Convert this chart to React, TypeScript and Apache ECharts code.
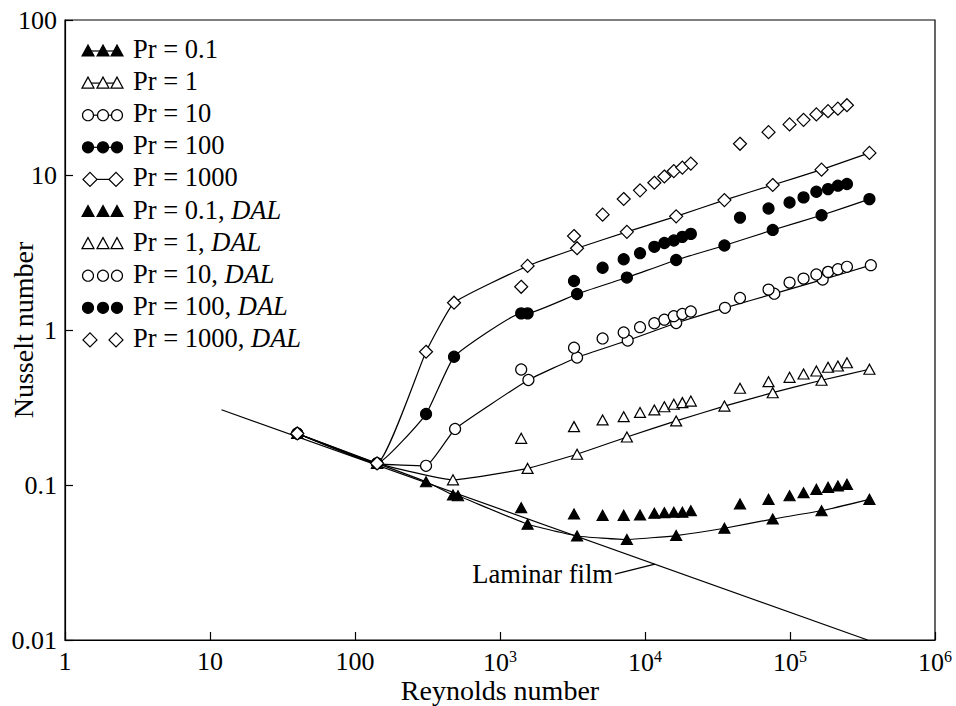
import React, { useEffect, useRef } from "react";
import * as echarts from "echarts";

const FONT = '"Liberation Serif", "Times New Roman", serif';

// Reynolds numbers of the computed curves
const lineRe = [40, 142, 309, 482, 1550, 3400, 7500, 16400, 35300, 76000, 165000, 353000];
const pr01LineRe = [40, 142, 309, 474, 513, 1550, 3400, 7500, 16400, 35300, 76000, 165000, 353000];
const pr1LineRe = [40, 142, 474, 1550, 3400, 7500, 16400, 35300, 76000, 165000, 353000];
const pr10LineRe = [40, 142, 309, 490, 1570, 3400, 7600, 16400, 35600, 77900, 168000, 361000];
const pr100LineRe = [40, 142, 309, 482, 1400, 1550, 3400, 7500, 16400, 35300, 76000, 165000, 353000];

const pr01LineNu = [0.215, 0.138, 0.105, 0.0862, 0.0853, 0.0558, 0.0469, 0.0445, 0.0472, 0.0526, 0.0603, 0.0682, 0.0808];
const pr1LineNu = [0.215, 0.138, 0.108, 0.128, 0.158, 0.204, 0.259, 0.323, 0.394, 0.474, 0.558];
const pr10LineNu = [0.215, 0.138, 0.133, 0.23, 0.476, 0.665, 0.856, 1.11, 1.39, 1.715, 2.115, 2.62];
const pr100LineNu = [0.215, 0.138, 0.287, 0.672, 1.28, 1.28, 1.707, 2.18, 2.83, 3.51, 4.42, 5.5, 6.99];
const pr1000LineNu = [0.215, 0.138, 0.724, 1.5, 2.59, 3.37, 4.3, 5.41, 6.89, 8.62, 10.83, 13.89];

// DAL data
const dalRe = [1400, 3240, 5100, 7130, 9240, 11600, 13600, 15800, 18100, 20700, 45200, 71100, 99300, 124000, 152000, 183000, 214000, 247000];
const pr01DalNu = [0.0714, 0.065, 0.0637, 0.0637, 0.064, 0.0657, 0.0663, 0.0667, 0.0667, 0.0683, 0.0754, 0.0808, 0.0853, 0.0892, 0.0938, 0.0966, 0.0986, 0.101];
const pr1DalNu = [0.2, 0.238, 0.263, 0.276, 0.294, 0.305, 0.32, 0.332, 0.34, 0.348, 0.421, 0.464, 0.495, 0.52, 0.544, 0.575, 0.586, 0.615];
const pr10DalNu = [0.556, 0.769, 0.882, 0.964, 1.043, 1.106, 1.166, 1.228, 1.268, 1.316, 1.609, 1.822, 2.022, 2.146, 2.281, 2.371, 2.468, 2.557];
const pr100DalRe = [3240, 5100, 7130, 9240, 11600, 13600, 15800, 18100, 20700, 45200, 71100, 99300, 124000, 152000, 183000, 214000, 247000];
const pr100DalNu = [2.07, 2.52, 2.86, 3.13, 3.44, 3.64, 3.78, 3.99, 4.17, 5.31, 6.08, 6.65, 7.17, 7.8, 8.11, 8.53, 8.75];
const pr1000DalNu = [1.9, 4.04, 5.55, 7.0, 7.96, 8.91, 9.78, 10.6, 11.16, 11.85, 15.9, 18.9, 21.2, 22.7, 24.6, 25.8, 26.8, 28.2];

// Laminar film line
const laminarRe = [12, 343000];
const laminarNu = [0.306, 0.01];
const laminarLabelRe = 11700;

const xTickExp = [0, 1, 2, 3, 4, 5, 6];
const yTickLabels = ["0.01", "0.1", "1", "10", "100"];

const legendNames = [
  "Pr = 0.1",
  "Pr = 1",
  "Pr = 10",
  "Pr = 100",
  "Pr = 1000",
  "Pr = 0.1, {i|DAL}",
  "Pr = 1, {i|DAL}",
  "Pr = 10, {i|DAL}",
  "Pr = 100, {i|DAL}",
  "Pr = 1000, {i|DAL}",
];

type Kind = "triF" | "triO" | "cirO" | "cirF" | "dia";
const legendKinds: Kind[] = ["triF", "triO", "cirO", "cirF", "dia", "triF", "triO", "cirO", "cirF", "dia"];

const zip = (xs: number[], ys: number[]) => xs.map((x, i) => [x, ys[i]]);

const symbolStyle = (k: Kind) => {
  switch (k) {
    case "triF":
      return { symbol: "triangle", symbolSize: [11, 10], fill: "#000" };
    case "triO":
      return { symbol: "triangle", symbolSize: [11, 10], fill: "#fff" };
    case "cirO":
      return { symbol: "circle", symbolSize: 11, fill: "#fff" };
    case "cirF":
      return { symbol: "circle", symbolSize: 11, fill: "#000" };
    default:
      return { symbol: "diamond", symbolSize: 13, fill: "#fff" };
  }
};

function lineSeries(name: string, data: number[][], k: Kind) {
  const s = symbolStyle(k);
  return {
    name,
    type: "line",
    data,
    smooth: 0.12,
    showAllSymbol: true,
    symbol: s.symbol,
    symbolSize: s.symbolSize,
    lineStyle: { color: "#000", width: 1.2 },
    itemStyle: { color: s.fill, borderColor: "#000", borderWidth: 1.2 },
    z: 3,
  };
}

function scatterSeries(name: string, data: number[][], k: Kind) {
  const s = symbolStyle(k);
  return {
    name,
    type: "scatter",
    data,
    symbol: s.symbol,
    symbolSize: s.symbolSize,
    itemStyle: { color: s.fill, borderColor: "#000", borderWidth: 1.2, opacity: 1 },
    z: 4,
  };
}

function legendSymbol(k: Kind, cx: number, cy: number) {
  const fill = k === "triF" || k === "cirF" ? "#000" : "#fff";
  const style = { fill, stroke: "#000", lineWidth: 1.2 };
  if (k === "triF" || k === "triO") {
    return { type: "polygon", shape: { points: [[cx - 6, cy + 5], [cx, cy - 6], [cx + 6, cy + 5]] }, style, z: 10 };
  }
  if (k === "cirF" || k === "cirO") {
    return { type: "circle", shape: { cx, cy, r: 5.5 }, style, z: 10 };
  }
  return { type: "polygon", shape: { points: [[cx - 7, cy], [cx, cy - 7], [cx + 7, cy], [cx, cy + 7]] }, style, z: 10 };
}

function buildLegend() {
  const els: any[] = [];
  legendNames.forEach((name, i) => {
    const cy = 49 + 32.1 * i;
    const k = legendKinds[i];
    const isLine = i < 5;
    const sy = cy + 2;
    const xs = k === "dia" ? [90, 116] : [88, 103, 117];
    if (isLine) {
      els.push({
        type: "line",
        shape: { x1: xs[0], y1: sy, x2: xs[xs.length - 1], y2: sy },
        style: { stroke: "#000", lineWidth: 1.2 },
        z: 9,
      });
    }
    xs.forEach((x) => els.push(legendSymbol(k, x, sy)));
    els.push({
      type: "text",
      x: 133,
      y: cy,
      style: {
        text: name,
        font: `26.5px ${FONT}`,
        fill: "#000",
        verticalAlign: "middle",
        align: "left",
        rich: { i: { fontStyle: "italic", fontSize: 26.5, fontFamily: FONT } },
      },
      z: 10,
    });
  });
  return els;
}

export default function App() {
  const ref = useRef<HTMLDivElement>(null);
  useEffect(() => {
    document.body.style.margin = "0";
    const chart = echarts.init(ref.current!, null, { renderer: "svg" });
    const axisText = { fontSize: 26, fontFamily: FONT, color: "#000" };
    const titleText = { fontSize: 28, fontFamily: FONT, color: "#000" };
    const option: any = {
      animation: false,
      backgroundColor: "#fff",
      grid: {
        left: 65,
        right: 21,
        top: 20,
        bottom: 66,
        show: true,
        borderColor: "#000",
        borderWidth: 1.2,
        containLabel: false,
        outerBoundsMode: "none",
      },
      xAxis: {
        type: "log",
        logBase: 10,
        min: 1,
        max: 1e6,
        name: "Reynolds number",
        nameLocation: "middle",
        nameGap: 36,
        nameMoveOverlap: false,
        nameTextStyle: titleText,
        axisLine: { show: true, lineStyle: { color: "#000", width: 1.2 } },
        axisTick: { inside: true, length: 8, lineStyle: { color: "#000", width: 1.2 } },
        splitLine: { show: false },
        axisLabel: {
          ...axisText,
          margin: 8,
          showMinLabel: true,
          showMaxLabel: true,
          hideOverlap: false,
          formatter: (v: number) => {
            const e = Math.round(Math.log10(v));
            if (!xTickExp.includes(e)) return "";
            return e <= 2 ? String(Math.pow(10, e)) : `10{sup|${e}}`;
          },
          rich: { sup: { fontSize: 16, fontFamily: FONT, color: "#000", verticalAlign: "top", padding: [0, 0, 12, 0] } },
        },
      },
      yAxis: {
        type: "log",
        logBase: 10,
        min: 0.01,
        max: 100,
        name: "Nusselt number",
        nameLocation: "middle",
        nameGap: 28,
        nameRotate: 90,
        nameMoveOverlap: false,
        nameTextStyle: titleText,
        axisLine: { show: true, lineStyle: { color: "#000", width: 1.2 } },
        axisTick: { inside: true, length: 8, lineStyle: { color: "#000", width: 1.2 } },
        splitLine: { show: false },
        axisLabel: {
          ...axisText,
          margin: 8,
          showMinLabel: true,
          showMaxLabel: true,
          formatter: (v: number) => {
            const e = Math.round(Math.log10(v)) + 2;
            return yTickLabels[e] ?? "";
          },
        },
      },
      series: [
        {
          name: "Laminar film",
          type: "line",
          data: zip(laminarRe, laminarNu),
          symbol: "none",
          lineStyle: { color: "#000", width: 1.2 },
          z: 2,
        },
        lineSeries("Pr = 0.1", zip(pr01LineRe, pr01LineNu), "triF"),
        lineSeries("Pr = 1", zip(pr1LineRe, pr1LineNu), "triO"),
        lineSeries("Pr = 10", zip(pr10LineRe, pr10LineNu), "cirO"),
        lineSeries("Pr = 100", zip(pr100LineRe, pr100LineNu), "cirF"),
        lineSeries("Pr = 1000", zip(lineRe, pr1000LineNu), "dia"),
        scatterSeries("Pr = 0.1, DAL", zip(dalRe, pr01DalNu), "triF"),
        scatterSeries("Pr = 1, DAL", zip(dalRe, pr1DalNu), "triO"),
        scatterSeries("Pr = 10, DAL", zip(dalRe, pr10DalNu), "cirO"),
        scatterSeries("Pr = 100, DAL", zip(pr100DalRe, pr100DalNu), "cirF"),
        scatterSeries("Pr = 1000, DAL", zip(dalRe, pr1000DalNu), "dia"),
      ],
      graphic: buildLegend(),
    };
    chart.setOption(option);

    // Laminar film annotation: point on the laminar line (log-linear interpolation)
    const t = (Math.log10(laminarLabelRe) - Math.log10(laminarRe[0])) / (Math.log10(laminarRe[1]) - Math.log10(laminarRe[0]));
    const nuAt = Math.pow(10, Math.log10(laminarNu[0]) + t * (Math.log10(laminarNu[1]) - Math.log10(laminarNu[0])));
    const p = chart.convertToPixel({ gridIndex: 0 }, [laminarLabelRe, nuAt]) as number[];
    chart.setOption({
      graphic: [
        ...buildLegend(),
        {
          type: "line",
          shape: { x1: p[0] - 40, y1: p[1] + 10, x2: p[0], y2: p[1] },
          style: { stroke: "#000", lineWidth: 1.2 },
          z: 10,
        },
        {
          type: "text",
          x: p[0] - 42,
          y: p[1] + 10,
          style: { text: "Laminar film", font: `26.5px ${FONT}`, fill: "#000", align: "right", verticalAlign: "middle" },
          z: 10,
        },
      ],
    });
    return () => chart.dispose();
  }, []);
  return <div ref={ref} style={{ width: 956, height: 706 }} />;
}
